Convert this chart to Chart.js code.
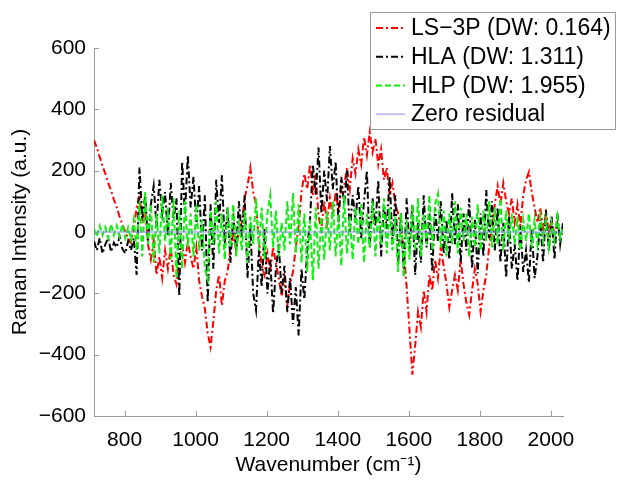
<!DOCTYPE html>
<html>
<head>
<meta charset="utf-8">
<script src="https://cdn.jsdelivr.net/npm/chart.js@4"></script>
<style>
  html, body { margin: 0; padding: 0; background: #fff; }
  #wrap { width: 621px; height: 486px; position: relative; }
</style>
</head>
<body>
<div id="wrap"><canvas id="residualChart" width="621" height="486"></canvas></div>
<script>
// sampling positions (cm^-1), one every 8 wavenumbers
const wavenumbers = [];
for (let w = 714; w <= 2034; w += 8) wavenumbers.push(w);

const seriesLabels = ['LS\u22123P (DW: 0.164)', 'HLA (DW: 1.311)', 'HLP (DW: 1.955)', 'Zero residual'];

// residuals
const ls3p = [
  300, 275, 245, 215, 190, 160, 135, 105, 80, 50, 25, 0, -20, -35, 10, 80,
  120, 40, 70, -40, -90, -30, -140, -80, -150, -60, -120, -50, -140, -170, -90, -40,
  -100, -30, -80, -120, -50, -160, -210, -250, -330, -375, -290, -190, -140, -240, -160, -130,
  -50, -10, -60, 10, 30, 110, 150, 210, 130, 90, -30, -110, -140, -70, -130, -50,
  -100, -150, -210, -150, -240, -170, -130, -50, 20, 130, 190, 140, 220, 120, 190, 50,
  10, 100, 30, 110, 50, 130, 70, 140, 150, 210, 140, 240, 190, 270, 220, 310,
  250, 325, 260, 305, 220, 270, 170, 210, 120, 160, 90, 60, 10, -60, -180, -320,
  -465, -370, -260, -310, -190, -260, -140, -190, -90, -150, -50, -110, -170, -245, -190, -140,
  -190, -90, -170, -230, -270, -190, -120, -170, -260, -190, -140, -50, 20, 90, 150, 90,
  160, 100, 60, 110, 30, 90, 20, 120, 170, 196, 130, 80, 30, 80, 10, 60,
  0, 40, -10, 30, -20, 10
];

const hla = [
  -30, -60, -20, -70, -40, -20, -65, -35, -50, -15, -55, -70, -30, -60, -20, -140,
  210, 40, 120, -30, 90, 150, 20, 170, 60, 130, -10, 160, 40, 110, -210, 230,
  60, 250, 80, 180, 20, 150, -60, 120, -230, 90, -120, 170, 30, 185, -40, 80,
  -100, 60, -60, 100, -20, 120, -150, 20, -200, -255, -60, -180, 10, -200, -90, -265,
  -120, -40, -200, -110, -260, -150, -300, -180, -337, -120, -220, -60, 40, 220, 120, 275,
  60, 200, 100, 280, 140, 230, 30, 180, 90, 200, 0, 120, 40, 150, -20, 100,
  200, -50, 110, 20, 170, -80, 90, 10, 180, -40, 120, -100, 60, -140, 110, -60,
  90, -140, 30, -100, 120, -50, 60, -130, 80, -30, 100, -70, 40, -90, 127, -40,
  90, -100, 60, -60, 110, -120, 40, -135, 60, -80, 137, -20, 100, -60, 80, -100,
  30, -150, 50, -120, -40, -160, 20, -130, -60, -165, 10, -150, -80, 40, -100, 72,
  -60, 50, -90, 60, -40, 30
];

const hlp = [
  10, -15, 20, -10, 15, -20, 25, -10, 20, -15, 25, -20, 15, -25, 40, -60,
  100, -80, 130, -40, 90, -100, 60, -70, 120, -30, 80, -90, 110, -150, 70, -120,
  100, -50, 60, -80, 90, -60, 40, -120, -155, 70, -40, 100, -70, 60, -90, 80,
  -50, 90, -80, 40, -60, 70, -100, 50, -40, 110, -60, 80, -90, 60, 120, -50,
  70, -80, 30, -60, 100, -40, 127, -70, 90, -100, 60, -130, 40, -157, 80, -120,
  50, -90, 70, -60, 100, -80, 60, -110, 120, -70, 50, -90, 80, -40, 90, -100,
  60, -50, 100, -80, 70, -40, 110, -70, 80, -60, 50, -130, 60, -147, 40, -90,
  90, -60, 110, -80, 60, -40, 120, -60, 90, 125, -50, 70, -80, 60, -40, 100,
  -70, 80, -30, 60, -80, 50, -50, 90, -60, 70, -30, 100, -50, 80, -40, 110,
  -60, 70, -30, 60, -40, 50, -60, 40, -30, 60, -50, 40, -40, 50, -30, 40,
  -50, 30, -30, 50, -20, 20
];

const zeroEnds = [714, 2034];
const zeroValues = [0, 0];

const toPoints = (ys) => ys.map((y, i) => ({ x: wavenumbers[i], y: y }));

const FONT = '"Liberation Sans", Arial, sans-serif';

// MATLAB style inward tick marks
const innerTicks = {
  id: 'innerTicks',
  afterDraw(chart) {
    const { ctx, chartArea, scales } = chart;
    ctx.save();
    ctx.strokeStyle = '#9a9a9a';
    ctx.lineWidth = 1;
    ctx.beginPath();
    scales.x.ticks.forEach(t => {
      const px = Math.round(scales.x.getPixelForValue(t.value)) + 0.5;
      ctx.moveTo(px, chartArea.bottom);
      ctx.lineTo(px, chartArea.bottom - 5);
    });
    scales.y.ticks.forEach(t => {
      const py = Math.round(scales.y.getPixelForValue(t.value)) + 0.5;
      ctx.moveTo(chartArea.left, py);
      ctx.lineTo(chartArea.left + 5, py);
    });
    ctx.stroke();
    ctx.restore();
  }
};

// boxed legend in the upper right corner
const legendBox = {
  id: 'legendBox',
  afterDraw(chart) {
    const ctx = chart.ctx;
    ctx.save();
    ctx.fillStyle = '#fff';
    ctx.fillRect(370.5, 12.5, 245, 117);
    ctx.strokeStyle = '#9a9a9a';
    ctx.lineWidth = 1;
    ctx.strokeRect(370.5, 12.5, 245, 117);
    chart.data.datasets.forEach((ds, i) => {
      const y = 28 + i * 28.7;
      ctx.beginPath();
      ctx.setLineDash(ds.borderDash || []);
      ctx.strokeStyle = ds.borderColor;
      ctx.lineWidth = ds.borderWidth;
      ctx.moveTo(376, y);
      ctx.lineTo(405, y);
      ctx.stroke();
      ctx.setLineDash([]);
      ctx.fillStyle = '#000';
      ctx.font = '23px ' + FONT;
      ctx.textBaseline = 'middle';
      ctx.fillText(ds.label, 411, y + 1);
    });
    ctx.restore();
  }
};

const ctx = document.getElementById('residualChart').getContext('2d');
new Chart(ctx, {
  type: 'line',
  data: {
    datasets: [
      {
        label: seriesLabels[0],
        data: toPoints(ls3p),
        borderColor: '#ff0000',
        borderWidth: 2,
        borderDash: [7, 3, 2, 3],
        pointRadius: 0,
        order: 3
      },
      {
        label: seriesLabels[1],
        data: toPoints(hla),
        borderColor: '#000000',
        borderWidth: 2,
        borderDash: [7, 3, 2, 3],
        pointRadius: 0,
        order: 2
      },
      {
        label: seriesLabels[2],
        data: toPoints(hlp),
        borderColor: '#11ee11',
        borderWidth: 2,
        borderDash: [6, 3],
        pointRadius: 0,
        order: 1
      },
      {
        label: seriesLabels[3],
        data: zeroEnds.map((x, i) => ({ x: x, y: zeroValues[i] })),
        borderColor: '#8a8aee',
        borderWidth: 1,
        pointRadius: 0,
        order: 0
      }
    ]
  },
  options: {
    responsive: false,
    animation: false,
    layout: { padding: { top: 48, right: 58, left: 0, bottom: 0 } },
    plugins: {
      legend: { display: false },
      tooltip: { enabled: false }
    },
    scales: {
      x: {
        type: 'linear',
        min: 714,
        max: 2034,
        grid: { display: false, drawTicks: false },
        border: { display: true, color: '#9a9a9a', width: 1 },
        ticks: {
          stepSize: 200,
          includeBounds: false,
          color: '#000',
          padding: 12,
          maxRotation: 0,
          font: { family: FONT, size: 21 },
          callback: (v) => String(v)
        },
        title: {
          display: true,
          text: 'Wavenumber (cm\u207B\u00B9)',
          color: '#000',
          padding: { top: 0, bottom: 8 },
          font: { family: FONT, size: 21 }
        },
        afterFit: (scale) => { scale.height = 70; }
      },
      y: {
        min: -600,
        max: 600,
        grid: { display: false, drawTicks: false },
        border: { display: true, color: '#9a9a9a', width: 1 },
        ticks: {
          stepSize: 200,
          color: '#000',
          padding: 8,
          font: { family: FONT, size: 21 },
          callback: (v) => v < 0 ? '\u2212' + Math.abs(v) : String(v)
        },
        title: {
          display: true,
          text: 'Raman Intensity (a.u.)',
          color: '#000',
          padding: { top: 8, bottom: 0 },
          font: { family: FONT, size: 21 }
        },
        afterFit: (scale) => { scale.width = 94; }
      }
    }
  },
  plugins: [innerTicks, legendBox]
});
</script>
</body>
</html>
